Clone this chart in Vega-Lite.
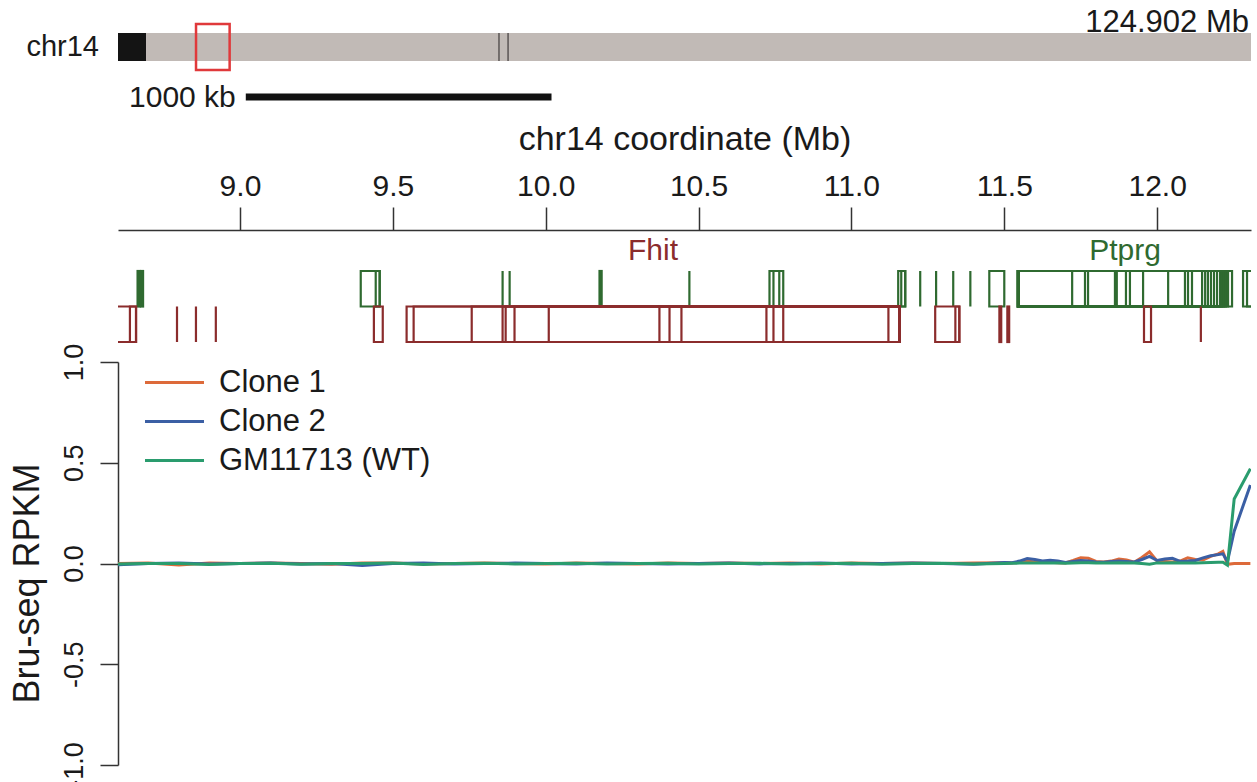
{
  "$schema": "https://vega.github.io/schema/vega-lite/v6.json",
  "padding": {"left": 9, "top": 0, "right": 5, "bottom": 0},
  "bounds": "flush",
  "spacing": 0,
  "config": {
    "view": {"stroke": null},
    "font": "Liberation Sans",
    "axis": {
      "labelColor": "#1a1a1a",
      "titleColor": "#1a1a1a",
      "titleFontWeight": "normal",
      "domainColor": "#333333",
      "tickColor": "#333333",
      "domainWidth": 1.5,
      "tickWidth": 1.5,
      "grid": false,
      "labelOverlap": false,
      "labelFlush": false
    },
    "text": {"color": "#1a1a1a"}
  },
  "resolve": {"scale": {"x": "independent", "y": "independent", "color": "independent", "fill": "independent", "stroke": "independent"}},
  "datasets": {
    "bands": [
      {"start": 0, "end": 3.09, "stain": "acen"},
      {"start": 3.09, "end": 124.902, "stain": "gneg"}
    ],
    "marks": [{"pos": 42.0}, {"pos": 43.0}],
    "region": [{"start": 8.601, "end": 12.307}],
    "chrom": [{"chrom": "chr14", "origin": 0, "length": 124.902, "label": "124.902 Mb"}],
    "scalebar": [{"start": 9.019, "end": 10.019, "label": "1000 kb"}],
    "genes": [
      {"strand": "+", "start": 8.665, "end": 8.672},
      {"strand": "+", "start": 8.676, "end": 8.683},
      {"strand": "+", "start": 9.395, "end": 9.457},
      {"strand": "+", "start": 9.444, "end": 9.457},
      {"strand": "+", "start": 9.859, "end": 9.859},
      {"strand": "+", "start": 9.882, "end": 9.882},
      {"strand": "+", "start": 10.176, "end": 10.183},
      {"strand": "+", "start": 10.47, "end": 10.47},
      {"strand": "+", "start": 10.732, "end": 10.777},
      {"strand": "+", "start": 10.745, "end": 10.764},
      {"strand": "+", "start": 11.153, "end": 11.176},
      {"strand": "+", "start": 11.163, "end": 11.176},
      {"strand": "+", "start": 11.225, "end": 11.225},
      {"strand": "+", "start": 11.277, "end": 11.277},
      {"strand": "+", "start": 11.333, "end": 11.333},
      {"strand": "+", "start": 11.389, "end": 11.389},
      {"strand": "+", "start": 11.451, "end": 11.5},
      {"strand": "+", "start": 11.545, "end": 12.245},
      {"strand": "+", "start": 11.545, "end": 11.722},
      {"strand": "+", "start": 11.545, "end": 11.764},
      {"strand": "+", "start": 11.545, "end": 11.774},
      {"strand": "+", "start": 11.545, "end": 11.862},
      {"strand": "+", "start": 11.545, "end": 11.868},
      {"strand": "+", "start": 11.545, "end": 11.898},
      {"strand": "+", "start": 11.545, "end": 11.911},
      {"strand": "+", "start": 11.545, "end": 11.954},
      {"strand": "+", "start": 11.545, "end": 12.036},
      {"strand": "+", "start": 11.545, "end": 12.091},
      {"strand": "+", "start": 11.545, "end": 12.101},
      {"strand": "+", "start": 11.545, "end": 12.114},
      {"strand": "+", "start": 11.545, "end": 12.147},
      {"strand": "+", "start": 11.545, "end": 12.157},
      {"strand": "+", "start": 11.545, "end": 12.166},
      {"strand": "+", "start": 11.545, "end": 12.176},
      {"strand": "+", "start": 11.545, "end": 12.186},
      {"strand": "+", "start": 11.545, "end": 12.196},
      {"strand": "+", "start": 11.545, "end": 12.206},
      {"strand": "+", "start": 11.545, "end": 12.212},
      {"strand": "+", "start": 11.545, "end": 12.219},
      {"strand": "+", "start": 11.545, "end": 12.225},
      {"strand": "+", "start": 11.545, "end": 12.232},
      {"strand": "+", "start": 12.281, "end": 12.4},
      {"strand": "+", "start": 12.294, "end": 12.4},
      {"strand": "-", "start": 8.5, "end": 8.66},
      {"strand": "-", "start": 8.64, "end": 8.66},
      {"strand": "-", "start": 8.794, "end": 8.794},
      {"strand": "-", "start": 8.856, "end": 8.856},
      {"strand": "-", "start": 8.921, "end": 8.921},
      {"strand": "-", "start": 9.438, "end": 9.467},
      {"strand": "-", "start": 9.545, "end": 11.157},
      {"strand": "-", "start": 9.568, "end": 11.157},
      {"strand": "-", "start": 9.758, "end": 11.157},
      {"strand": "-", "start": 9.859, "end": 11.157},
      {"strand": "-", "start": 9.869, "end": 11.157},
      {"strand": "-", "start": 9.898, "end": 11.157},
      {"strand": "-", "start": 10.01, "end": 11.157},
      {"strand": "-", "start": 10.372, "end": 11.157},
      {"strand": "-", "start": 10.405, "end": 11.157},
      {"strand": "-", "start": 10.444, "end": 11.157},
      {"strand": "-", "start": 10.722, "end": 11.157},
      {"strand": "-", "start": 10.745, "end": 11.157},
      {"strand": "-", "start": 10.777, "end": 11.157},
      {"strand": "-", "start": 11.121, "end": 11.157},
      {"strand": "-", "start": 11.274, "end": 11.353},
      {"strand": "-", "start": 11.34, "end": 11.353},
      {"strand": "-", "start": 11.484, "end": 11.49},
      {"strand": "-", "start": 11.51, "end": 11.516},
      {"strand": "-", "start": 11.957, "end": 11.98},
      {"strand": "-", "start": 12.143, "end": 12.143}
    ],
    "geneNames": [
      {"gene": "Fhit", "strand": "-", "pos": 10.351},
      {"gene": "Ptprg", "strand": "+", "pos": 11.895}
    ],
    "bruseq": [
      {"sample": "Clone 1", "pos": 8.6, "rpkm": 0.0},
      {"sample": "Clone 1", "pos": 8.7, "rpkm": 0.002},
      {"sample": "Clone 1", "pos": 8.8, "rpkm": -0.008},
      {"sample": "Clone 1", "pos": 8.9, "rpkm": 0.002},
      {"sample": "Clone 1", "pos": 9.0, "rpkm": 0.0},
      {"sample": "Clone 1", "pos": 9.1, "rpkm": 0.003},
      {"sample": "Clone 1", "pos": 9.2, "rpkm": 0.0},
      {"sample": "Clone 1", "pos": 9.3, "rpkm": -0.004},
      {"sample": "Clone 1", "pos": 9.4, "rpkm": 0.002},
      {"sample": "Clone 1", "pos": 9.5, "rpkm": 0.003},
      {"sample": "Clone 1", "pos": 9.6, "rpkm": -0.002},
      {"sample": "Clone 1", "pos": 9.7, "rpkm": 0.0},
      {"sample": "Clone 1", "pos": 9.8, "rpkm": 0.002},
      {"sample": "Clone 1", "pos": 9.9, "rpkm": 0.0},
      {"sample": "Clone 1", "pos": 10.0, "rpkm": -0.003},
      {"sample": "Clone 1", "pos": 10.1, "rpkm": 0.002},
      {"sample": "Clone 1", "pos": 10.2, "rpkm": 0.0},
      {"sample": "Clone 1", "pos": 10.3, "rpkm": -0.002},
      {"sample": "Clone 1", "pos": 10.4, "rpkm": 0.003},
      {"sample": "Clone 1", "pos": 10.5, "rpkm": 0.0},
      {"sample": "Clone 1", "pos": 10.6, "rpkm": 0.002},
      {"sample": "Clone 1", "pos": 10.7, "rpkm": 0.0},
      {"sample": "Clone 1", "pos": 10.8, "rpkm": 0.003},
      {"sample": "Clone 1", "pos": 10.9, "rpkm": -0.002},
      {"sample": "Clone 1", "pos": 11.0, "rpkm": 0.002},
      {"sample": "Clone 1", "pos": 11.1, "rpkm": 0.0},
      {"sample": "Clone 1", "pos": 11.2, "rpkm": 0.003},
      {"sample": "Clone 1", "pos": 11.3, "rpkm": 0.0},
      {"sample": "Clone 1", "pos": 11.4, "rpkm": 0.002},
      {"sample": "Clone 1", "pos": 11.5, "rpkm": 0.004},
      {"sample": "Clone 1", "pos": 11.525, "rpkm": 0.003},
      {"sample": "Clone 1", "pos": 11.55, "rpkm": 0.006},
      {"sample": "Clone 1", "pos": 11.575, "rpkm": 0.012},
      {"sample": "Clone 1", "pos": 11.6, "rpkm": 0.008},
      {"sample": "Clone 1", "pos": 11.625, "rpkm": 0.005},
      {"sample": "Clone 1", "pos": 11.65, "rpkm": 0.006},
      {"sample": "Clone 1", "pos": 11.675, "rpkm": 0.004},
      {"sample": "Clone 1", "pos": 11.7, "rpkm": 0.003},
      {"sample": "Clone 1", "pos": 11.725, "rpkm": 0.015},
      {"sample": "Clone 1", "pos": 11.75, "rpkm": 0.028},
      {"sample": "Clone 1", "pos": 11.775, "rpkm": 0.026},
      {"sample": "Clone 1", "pos": 11.8, "rpkm": 0.01},
      {"sample": "Clone 1", "pos": 11.825, "rpkm": 0.008},
      {"sample": "Clone 1", "pos": 11.85, "rpkm": 0.012},
      {"sample": "Clone 1", "pos": 11.875, "rpkm": 0.022},
      {"sample": "Clone 1", "pos": 11.9, "rpkm": 0.018},
      {"sample": "Clone 1", "pos": 11.925, "rpkm": 0.006},
      {"sample": "Clone 1", "pos": 11.95, "rpkm": 0.03},
      {"sample": "Clone 1", "pos": 11.975, "rpkm": 0.058},
      {"sample": "Clone 1", "pos": 12.0, "rpkm": 0.012},
      {"sample": "Clone 1", "pos": 12.025, "rpkm": 0.01},
      {"sample": "Clone 1", "pos": 12.05, "rpkm": 0.008},
      {"sample": "Clone 1", "pos": 12.075, "rpkm": 0.012},
      {"sample": "Clone 1", "pos": 12.1, "rpkm": 0.028},
      {"sample": "Clone 1", "pos": 12.125, "rpkm": 0.02},
      {"sample": "Clone 1", "pos": 12.15, "rpkm": 0.018},
      {"sample": "Clone 1", "pos": 12.175, "rpkm": 0.035},
      {"sample": "Clone 1", "pos": 12.2, "rpkm": 0.048},
      {"sample": "Clone 1", "pos": 12.215, "rpkm": 0.06},
      {"sample": "Clone 1", "pos": 12.23, "rpkm": -0.004},
      {"sample": "Clone 1", "pos": 12.252, "rpkm": 0.0},
      {"sample": "Clone 1", "pos": 12.305, "rpkm": 0.0},
      {"sample": "Clone 2", "pos": 8.6, "rpkm": -0.006},
      {"sample": "Clone 2", "pos": 8.7, "rpkm": 0.0},
      {"sample": "Clone 2", "pos": 8.8, "rpkm": 0.002},
      {"sample": "Clone 2", "pos": 8.9, "rpkm": -0.002},
      {"sample": "Clone 2", "pos": 9.0, "rpkm": 0.0},
      {"sample": "Clone 2", "pos": 9.1, "rpkm": 0.002},
      {"sample": "Clone 2", "pos": 9.2, "rpkm": -0.002},
      {"sample": "Clone 2", "pos": 9.3, "rpkm": 0.0},
      {"sample": "Clone 2", "pos": 9.4, "rpkm": -0.01},
      {"sample": "Clone 2", "pos": 9.5, "rpkm": 0.0},
      {"sample": "Clone 2", "pos": 9.6, "rpkm": 0.002},
      {"sample": "Clone 2", "pos": 9.7, "rpkm": -0.003},
      {"sample": "Clone 2", "pos": 9.8, "rpkm": 0.0},
      {"sample": "Clone 2", "pos": 9.9, "rpkm": 0.002},
      {"sample": "Clone 2", "pos": 10.0, "rpkm": 0.0},
      {"sample": "Clone 2", "pos": 10.1, "rpkm": -0.002},
      {"sample": "Clone 2", "pos": 10.2, "rpkm": 0.002},
      {"sample": "Clone 2", "pos": 10.3, "rpkm": 0.0},
      {"sample": "Clone 2", "pos": 10.4, "rpkm": -0.002},
      {"sample": "Clone 2", "pos": 10.5, "rpkm": 0.0},
      {"sample": "Clone 2", "pos": 10.6, "rpkm": 0.002},
      {"sample": "Clone 2", "pos": 10.7, "rpkm": -0.002},
      {"sample": "Clone 2", "pos": 10.8, "rpkm": 0.0},
      {"sample": "Clone 2", "pos": 10.9, "rpkm": 0.002},
      {"sample": "Clone 2", "pos": 11.0, "rpkm": -0.003},
      {"sample": "Clone 2", "pos": 11.1, "rpkm": 0.0},
      {"sample": "Clone 2", "pos": 11.2, "rpkm": 0.002},
      {"sample": "Clone 2", "pos": 11.3, "rpkm": 0.0},
      {"sample": "Clone 2", "pos": 11.4, "rpkm": -0.004},
      {"sample": "Clone 2", "pos": 11.5, "rpkm": 0.005},
      {"sample": "Clone 2", "pos": 11.525, "rpkm": 0.004},
      {"sample": "Clone 2", "pos": 11.55, "rpkm": 0.012},
      {"sample": "Clone 2", "pos": 11.575, "rpkm": 0.025},
      {"sample": "Clone 2", "pos": 11.6, "rpkm": 0.02},
      {"sample": "Clone 2", "pos": 11.625, "rpkm": 0.012},
      {"sample": "Clone 2", "pos": 11.65, "rpkm": 0.016},
      {"sample": "Clone 2", "pos": 11.675, "rpkm": 0.013},
      {"sample": "Clone 2", "pos": 11.7, "rpkm": 0.005},
      {"sample": "Clone 2", "pos": 11.725, "rpkm": 0.01},
      {"sample": "Clone 2", "pos": 11.75, "rpkm": 0.015},
      {"sample": "Clone 2", "pos": 11.775, "rpkm": 0.012},
      {"sample": "Clone 2", "pos": 11.8, "rpkm": 0.008},
      {"sample": "Clone 2", "pos": 11.825, "rpkm": 0.006},
      {"sample": "Clone 2", "pos": 11.85, "rpkm": 0.01},
      {"sample": "Clone 2", "pos": 11.875, "rpkm": 0.012},
      {"sample": "Clone 2", "pos": 11.9, "rpkm": 0.01},
      {"sample": "Clone 2", "pos": 11.925, "rpkm": 0.008},
      {"sample": "Clone 2", "pos": 11.95, "rpkm": 0.02},
      {"sample": "Clone 2", "pos": 11.975, "rpkm": 0.035},
      {"sample": "Clone 2", "pos": 12.0, "rpkm": 0.015},
      {"sample": "Clone 2", "pos": 12.025, "rpkm": 0.022},
      {"sample": "Clone 2", "pos": 12.05, "rpkm": 0.026},
      {"sample": "Clone 2", "pos": 12.075, "rpkm": 0.01},
      {"sample": "Clone 2", "pos": 12.1, "rpkm": 0.012},
      {"sample": "Clone 2", "pos": 12.125, "rpkm": 0.015},
      {"sample": "Clone 2", "pos": 12.15, "rpkm": 0.028},
      {"sample": "Clone 2", "pos": 12.175, "rpkm": 0.038},
      {"sample": "Clone 2", "pos": 12.2, "rpkm": 0.044},
      {"sample": "Clone 2", "pos": 12.215, "rpkm": 0.048},
      {"sample": "Clone 2", "pos": 12.23, "rpkm": 0.01},
      {"sample": "Clone 2", "pos": 12.252, "rpkm": 0.16},
      {"sample": "Clone 2", "pos": 12.305, "rpkm": 0.39},
      {"sample": "GM11713 (WT)", "pos": 8.6, "rpkm": -0.002},
      {"sample": "GM11713 (WT)", "pos": 8.7, "rpkm": 0.0},
      {"sample": "GM11713 (WT)", "pos": 8.8, "rpkm": 0.0},
      {"sample": "GM11713 (WT)", "pos": 8.9, "rpkm": -0.005},
      {"sample": "GM11713 (WT)", "pos": 9.0, "rpkm": 0.0},
      {"sample": "GM11713 (WT)", "pos": 9.1, "rpkm": 0.001},
      {"sample": "GM11713 (WT)", "pos": 9.2, "rpkm": -0.004},
      {"sample": "GM11713 (WT)", "pos": 9.3, "rpkm": 0.0},
      {"sample": "GM11713 (WT)", "pos": 9.4, "rpkm": 0.0},
      {"sample": "GM11713 (WT)", "pos": 9.5, "rpkm": 0.002},
      {"sample": "GM11713 (WT)", "pos": 9.6, "rpkm": -0.005},
      {"sample": "GM11713 (WT)", "pos": 9.7, "rpkm": 0.0},
      {"sample": "GM11713 (WT)", "pos": 9.8, "rpkm": 0.001},
      {"sample": "GM11713 (WT)", "pos": 9.9, "rpkm": -0.002},
      {"sample": "GM11713 (WT)", "pos": 10.0, "rpkm": 0.0},
      {"sample": "GM11713 (WT)", "pos": 10.1, "rpkm": 0.001},
      {"sample": "GM11713 (WT)", "pos": 10.2, "rpkm": -0.003},
      {"sample": "GM11713 (WT)", "pos": 10.3, "rpkm": 0.0},
      {"sample": "GM11713 (WT)", "pos": 10.4, "rpkm": 0.001},
      {"sample": "GM11713 (WT)", "pos": 10.5, "rpkm": -0.002},
      {"sample": "GM11713 (WT)", "pos": 10.6, "rpkm": 0.0},
      {"sample": "GM11713 (WT)", "pos": 10.7, "rpkm": 0.001},
      {"sample": "GM11713 (WT)", "pos": 10.8, "rpkm": -0.003},
      {"sample": "GM11713 (WT)", "pos": 10.9, "rpkm": 0.0},
      {"sample": "GM11713 (WT)", "pos": 11.0, "rpkm": 0.001},
      {"sample": "GM11713 (WT)", "pos": 11.1, "rpkm": -0.004},
      {"sample": "GM11713 (WT)", "pos": 11.2, "rpkm": 0.0},
      {"sample": "GM11713 (WT)", "pos": 11.3, "rpkm": 0.001},
      {"sample": "GM11713 (WT)", "pos": 11.4, "rpkm": -0.002},
      {"sample": "GM11713 (WT)", "pos": 11.5, "rpkm": 0.0},
      {"sample": "GM11713 (WT)", "pos": 11.525, "rpkm": 0.001},
      {"sample": "GM11713 (WT)", "pos": 11.55, "rpkm": 0.002},
      {"sample": "GM11713 (WT)", "pos": 11.575, "rpkm": 0.003},
      {"sample": "GM11713 (WT)", "pos": 11.6, "rpkm": 0.002},
      {"sample": "GM11713 (WT)", "pos": 11.625, "rpkm": 0.002},
      {"sample": "GM11713 (WT)", "pos": 11.65, "rpkm": 0.003},
      {"sample": "GM11713 (WT)", "pos": 11.675, "rpkm": 0.002},
      {"sample": "GM11713 (WT)", "pos": 11.7, "rpkm": 0.001},
      {"sample": "GM11713 (WT)", "pos": 11.725, "rpkm": 0.003},
      {"sample": "GM11713 (WT)", "pos": 11.75, "rpkm": 0.004},
      {"sample": "GM11713 (WT)", "pos": 11.775, "rpkm": 0.004},
      {"sample": "GM11713 (WT)", "pos": 11.8, "rpkm": 0.003},
      {"sample": "GM11713 (WT)", "pos": 11.825, "rpkm": 0.002},
      {"sample": "GM11713 (WT)", "pos": 11.85, "rpkm": 0.003},
      {"sample": "GM11713 (WT)", "pos": 11.875, "rpkm": 0.004},
      {"sample": "GM11713 (WT)", "pos": 11.9, "rpkm": 0.003},
      {"sample": "GM11713 (WT)", "pos": 11.925, "rpkm": 0.002},
      {"sample": "GM11713 (WT)", "pos": 11.95, "rpkm": 0.0},
      {"sample": "GM11713 (WT)", "pos": 11.975, "rpkm": -0.004},
      {"sample": "GM11713 (WT)", "pos": 12.0, "rpkm": 0.003},
      {"sample": "GM11713 (WT)", "pos": 12.025, "rpkm": 0.003},
      {"sample": "GM11713 (WT)", "pos": 12.05, "rpkm": 0.004},
      {"sample": "GM11713 (WT)", "pos": 12.075, "rpkm": 0.002},
      {"sample": "GM11713 (WT)", "pos": 12.1, "rpkm": 0.003},
      {"sample": "GM11713 (WT)", "pos": 12.125, "rpkm": 0.003},
      {"sample": "GM11713 (WT)", "pos": 12.15, "rpkm": 0.004},
      {"sample": "GM11713 (WT)", "pos": 12.175, "rpkm": 0.005},
      {"sample": "GM11713 (WT)", "pos": 12.2, "rpkm": 0.006},
      {"sample": "GM11713 (WT)", "pos": 12.215, "rpkm": 0.006},
      {"sample": "GM11713 (WT)", "pos": 12.23, "rpkm": -0.008},
      {"sample": "GM11713 (WT)", "pos": 12.252, "rpkm": 0.32},
      {"sample": "GM11713 (WT)", "pos": 12.305, "rpkm": 0.47}
    ]
  },
  "vconcat": [
    {
      "width": 1133,
      "height": 230,
      "resolve": {"scale": {"x": "independent"}},
      "layer": [
        {
          "layer": [
            {
              "data": {"name": "bands"},
              "mark": {"type": "rect"},
              "encoding": {
                "x": {"field": "start", "type": "quantitative", "scale": {"domain": [0, 124.902], "nice": false, "zero": false}, "axis": null},
                "x2": {"field": "end"},
                "y": {"datum": 0, "type": "quantitative", "scale": {"domain": [-1.1786, 7.0357], "reverse": true, "nice": false, "zero": false}, "axis": null},
                "y2": {"datum": 1},
                "fill": {"field": "stain", "type": "nominal", "scale": {"domain": ["acen", "gneg"], "range": ["#141414", "#c1bab6"]}, "legend": null}
              }
            },
            {
              "data": {"name": "marks"},
              "mark": {"type": "rule", "color": "#4a4444", "strokeWidth": 1.3},
              "encoding": {
                "x": {"field": "pos", "type": "quantitative"},
                "y": {"datum": 0, "type": "quantitative"},
                "y2": {"datum": 1}
              }
            },
            {
              "data": {"name": "region"},
              "mark": {"type": "rect", "filled": false, "color": "#e0393b", "strokeWidth": 2.5},
              "encoding": {
                "x": {"field": "start", "type": "quantitative"},
                "x2": {"field": "end"},
                "y": {"datum": -0.32, "type": "quantitative"},
                "y2": {"datum": 1.32}
              }
            },
            {
              "data": {"name": "chrom"},
              "mark": {"type": "text", "align": "right", "baseline": "middle", "dx": -19, "fontSize": 29},
              "encoding": {
                "x": {"field": "origin", "type": "quantitative"},
                "y": {"datum": 0.5, "type": "quantitative"},
                "text": {"field": "chrom"}
              }
            },
            {
              "data": {"name": "chrom"},
              "mark": {"type": "text", "align": "right", "baseline": "alphabetic", "dx": -2, "fontSize": 31},
              "encoding": {
                "x": {"field": "length", "type": "quantitative"},
                "y": {"datum": -0.04, "type": "quantitative"},
                "text": {"field": "label"}
              }
            }
          ]
        },
        {
          "data": {"name": "scalebar"},
          "layer": [
            {
              "mark": {"type": "rule", "color": "#111111", "strokeWidth": 7, "strokeCap": "butt"},
              "encoding": {
                "x": {"field": "start", "type": "quantitative", "scale": {"domain": [8.601, 12.307], "nice": false, "zero": false}, "axis": null},
                "x2": {"field": "end"},
                "y": {"datum": 2.286, "type": "quantitative"}
              }
            },
            {
              "mark": {"type": "text", "align": "right", "baseline": "middle", "dx": -10, "fontSize": 30},
              "encoding": {
                "x": {"field": "start", "type": "quantitative"},
                "y": {"datum": 2.32, "type": "quantitative"},
                "text": {"field": "label"}
              }
            }
          ]
        }
      ]
    },
    {
      "width": 1133,
      "height": 132,
      "layer": [
        {
          "data": {"name": "genes"},
          "transform": [{"filter": "datum.strand === '+'"}],
          "mark": {"type": "rect", "filled": false, "strokeWidth": 2.2, "clip": true},
          "encoding": {
            "x": {
              "field": "start",
              "type": "quantitative",
              "scale": {"domain": [8.601, 12.307], "nice": false, "zero": false},
              "axis": {
                "orient": "top",
                "values": [9, 9.5, 10, 10.5, 11, 11.5, 12],
                "format": ".1f",
                "title": "chr14 coordinate (Mb)",
                "titleFontSize": 34,
                "titlePadding": 15,
                "labelFontSize": 30,
                "labelPadding": 6,
                "tickSize": 23
              }
            },
            "x2": {"field": "end"},
            "y": {"datum": 0, "type": "quantitative", "scale": {"domain": [-1.155, 2.563], "reverse": true, "nice": false, "zero": false}, "axis": null},
            "y2": {"datum": 1},
            "color": {"field": "strand", "type": "nominal", "scale": {"domain": ["+", "-"], "range": ["#2f6a30", "#8b2c2c"]}, "legend": null}
          }
        },
        {
          "data": {"name": "genes"},
          "transform": [{"filter": "datum.strand === '-'"}],
          "mark": {"type": "rect", "filled": false, "strokeWidth": 2.2, "clip": true},
          "encoding": {
            "x": {"field": "start", "type": "quantitative"},
            "x2": {"field": "end"},
            "y": {"datum": 1, "type": "quantitative"},
            "y2": {"datum": 2},
            "color": {"field": "strand", "type": "nominal"}
          }
        },
        {
          "data": {"name": "geneNames"},
          "mark": {"type": "text", "align": "center", "baseline": "alphabetic", "fontSize": 30},
          "encoding": {
            "x": {"field": "pos", "type": "quantitative"},
            "y": {"datum": -0.3, "type": "quantitative"},
            "text": {"field": "gene"},
            "color": {"field": "strand", "type": "nominal"}
          }
        }
      ]
    },
    {
      "width": 1133,
      "height": 403,
      "data": {"name": "bruseq"},
      "mark": {"type": "line", "strokeWidth": 3, "clip": true},
      "encoding": {
        "x": {"field": "pos", "type": "quantitative", "scale": {"domain": [8.601, 12.307], "nice": false, "zero": false}, "axis": null},
        "y": {
          "field": "rpkm",
          "type": "quantitative",
          "scale": {"domain": [-1, 1], "nice": false, "zero": false},
          "axis": {
            "values": [-1, -0.5, 0, 0.5, 1],
            "format": ".1f",
            "labelExpr": "replace(datum.label, '\u2212', '-')",
            "labelAngle": -90,
            "labelAlign": "center",
            "labelBaseline": "bottom",
            "labelFontSize": 27,
            "labelPadding": 12,
            "tickSize": 18,
            "title": "Bru-seq RPKM",
            "titleFontSize": 36,
            "titlePadding": 14,
            "titleY": 221
          }
        },
        "color": {
          "field": "sample",
          "type": "nominal",
          "scale": {"domain": ["Clone 1", "Clone 2", "GM11713 (WT)"], "range": ["#dd6a3a", "#3b5fa4", "#2a9c6e"]},
          "legend": {
            "orient": "none",
            "legendX": 40,
            "legendY": 4,
            "title": null,
            "padding": 0,
            "symbolType": "M-2,0H2",
            "symbolSize": 870,
            "symbolStrokeWidth": 3,
            "labelFontSize": 31,
            "labelLimit": 0,
            "labelColor": "#1a1a1a",
            "labelOffset": 28,
            "rowPadding": 7
          }
        }
      }
    }
  ]
}
